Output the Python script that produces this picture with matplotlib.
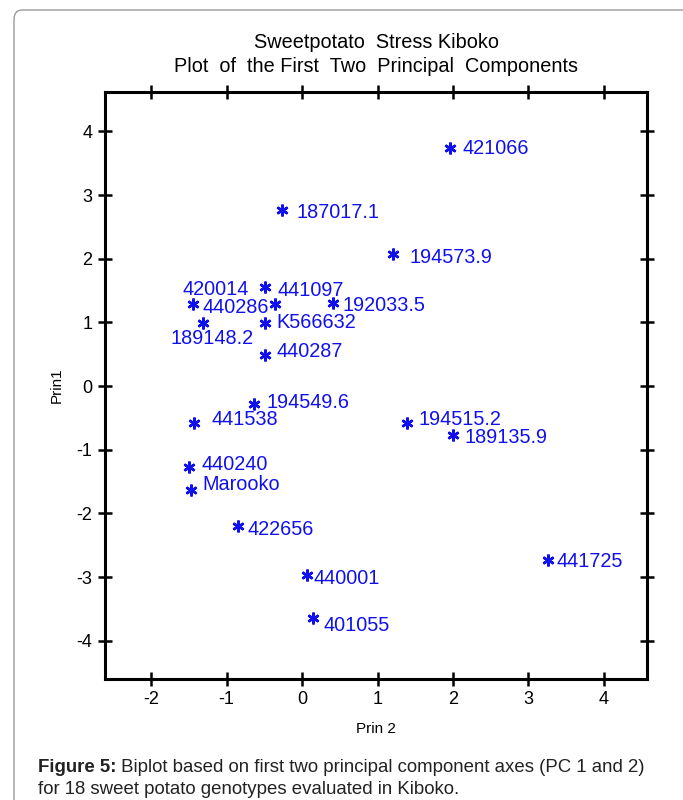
import matplotlib.pyplot as plt
from matplotlib.patches import FancyBboxPatch

plt.rcParams['font.family'] = ['Liberation Sans', 'DejaVu Sans']
plt.rcParams['axes.unicode_minus'] = False

# genotype scores
names = ['421066', '187017.1', '194573.9', '441097', '420014', '440286',
         '192033.5', '189148.2', 'K566632', '440287', '194549.6', '441538',
         '194515.2', '189135.9', '440240', 'Marooko', '422656', '440001',
         '401055', '441725']
prin2 = [1.96, -0.26, 1.21, -0.49, -0.36, -1.44,
         0.41, -1.31, -0.49, -0.49, -0.64, -1.43,
         1.39, 2.00, -1.50, -1.47, -0.85, 0.07,
         0.15, 3.26]
prin1 = [3.74, 2.76, 2.07, 1.55, 1.29, 1.29,
         1.30, 0.99, 0.99, 0.49, -0.28, -0.58,
         -0.58, -0.77, -1.27, -1.63, -2.20, -2.97,
         -3.64, -2.73]

xticks = [-2, -1, 0, 1, 2, 3, 4]
yticks = [-4, -3, -2, -1, 0, 1, 2, 3, 4]

# label placement (pixels from the marker) and alignment
offsets = [(13, 0, 'left'), (14, -2, 'left'), (16, -3, 'left'), (12, -3, 'left'),
           (-26, 15, 'right'), (9, -3, 'left'), (10, -2, 'left'), (9, -15, 'center'),
           (11, 1, 'left'), (11, 3, 'left'), (13, 1, 'left'), (17, 4, 'left'),
           (12, 4, 'left'), (12, -2, 'left'), (13, 2, 'left'), (11, 5, 'left'),
           (10, -3, 'left'), (6, -3, 'left'), (10, -8, 'left'), (8, -2, 'left')]

fig = plt.figure(figsize=(6.83, 8.0), dpi=100)

# rounded frame around the figure
frame = FancyBboxPatch((14 / 683, -0.05), 1.05, 1.05 - 10 / 800,
                       boxstyle='round,pad=0,rounding_size=0.012',
                       transform=fig.transFigure, fill=False,
                       edgecolor='#9a9a9a', linewidth=1.0)
fig.patches.append(frame)

ax = fig.add_axes([105 / 683, 1 - 679 / 800, 542 / 683, 587 / 800])
ax.plot(prin2, prin1, linestyle='none', marker=(6, 2, 0), markersize=8.5,
        markeredgewidth=1.8, color='#1010ee')
for n, x, y, (dx, dy, ha) in zip(names, prin2, prin1, offsets):
    ax.annotate(n, (x, y), xytext=(dx, dy), textcoords='offset pixels',
                ha=ha, va='center', fontsize=14.3, color='#1010ee')

ax.set_xlim(-2.61, 4.57)
ax.set_ylim(-4.6, 4.62)
ax.set_xticks(xticks)
ax.set_yticks(yticks)
for s in ax.spines.values():
    s.set_linewidth(2.2)
ax.tick_params(direction='inout', length=10, width=1.8, labelsize=13,
               top=True, right=True, pad=4)

ax.set_xlabel('Prin 2', fontsize=11, labelpad=10)
ax.set_ylabel('Prin1', fontsize=11, labelpad=9)

fig.text(376 / 683, 1 - 43 / 800, 'Sweetpotato  Stress Kiboko', ha='center',
         va='center', fontsize=14.3)
fig.text(376 / 683, 1 - 67 / 800, 'Plot  of  the First  Two  Principal  Components',
         ha='center', va='center', fontsize=14.3)

bold = fig.text(38 / 683, 1 - 767 / 800, 'Figure 5:', fontweight='bold',
                fontsize=13.4, va='center', ha='left', color='#222222')
fig.text(38 / 683, 1 - 789 / 800,
         'for 18 sweet potato genotypes evaluated in Kiboko.',
         fontsize=13.4, va='center', ha='left', color='#222222')
plt.annotate(' Biplot based on first two principal component axes (PC 1 and 2)',
             xy=(1, 0.5), xycoords=bold, va='center', ha='left',
             fontsize=13.4, color='#222222', annotation_clip=False)

fig.savefig('out.png', dpi=100)
